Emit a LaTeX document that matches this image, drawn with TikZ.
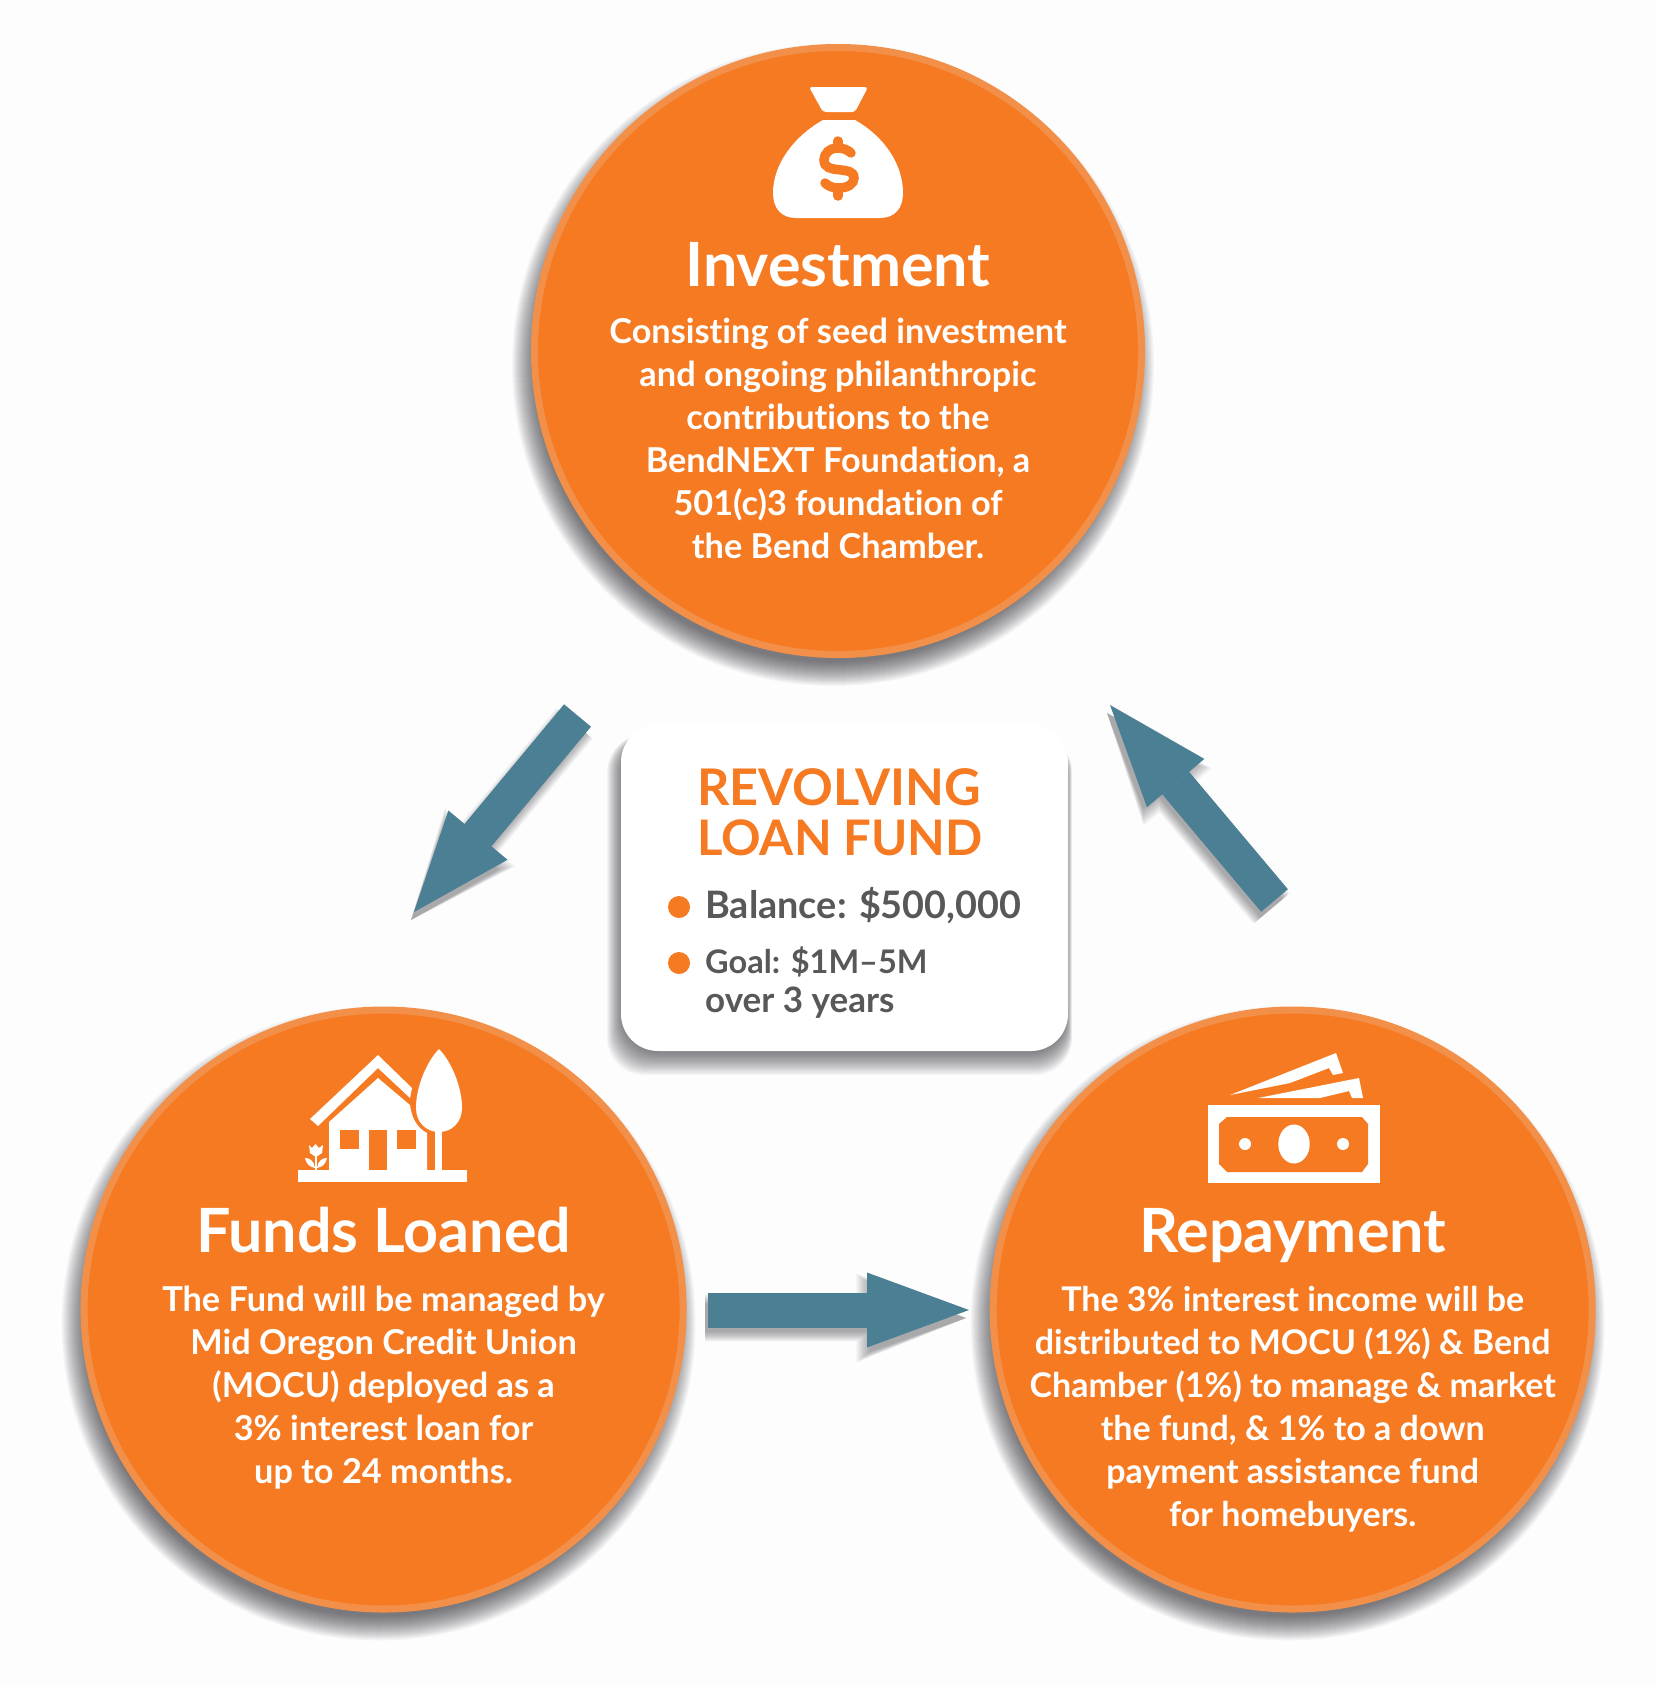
\documentclass[tikz,border=0pt]{standalone}
\usepackage{fontspec}
\setmainfont{Lato}[Ligatures=CommonOff]
\usetikzlibrary{arrows.meta,calc}
\definecolor{fundorange}{HTML}{F67A22}
\definecolor{fundring}{HTML}{F2904A}
\definecolor{fundteal}{HTML}{4A7F94}
\definecolor{fundgray}{HTML}{58585A}
\definecolor{shadowink}{HTML}{2E2E34}
\definecolor{paper}{HTML}{FEFDFE}
\tikzset{
  disc/.style={circle,draw=fundring,fill=fundorange,line width=7pt,inner sep=0pt},
  discr/.style={disc,minimum size=#1},
  title/.style={text=white,inner sep=0pt,font=\fontsize{61}{62}\selectfont\bfseries,anchor=base},
  body/.style={text=white,inner sep=0pt,font=\fontsize{34.3}{42.9}\selectfont\bfseries,align=center,anchor=base},
  icon/.style={fill=white,draw=none},
  cutout/.style={fill=fundorange,draw=none},
  flow/.style={draw=fundteal,line width=35pt},
  dot/.style={circle,fill=fundorange,inner sep=0pt,minimum size=22pt},
  head/.style={text=fundorange,inner sep=0pt,anchor=base west},
  info/.style={text=fundgray,inner sep=0pt,anchor=base west}
}
% soft shadows are stacks of faint shapes
\newcommand{\discshadow}[2]{
  \foreach \g in {0,1,...,24}{
    \fill[shadowink,opacity=.035] ($(#1)+(-5,14)$) circle ({#2-10+\g});
  }
}
\newcommand{\flowarrow}[4]{
  \foreach \g in {0,1,...,14}{
    \pgfmathsetmacro\shaftw{28+\g*1.4}
    \pgfmathsetmacro\tipl{#3-6+\g}
    \pgfmathsetmacro\tipw{#4-8+\g*1.6}
    \draw[shadowink,opacity=.03,line width=\shaftw pt,-{Triangle[line width=0pt,length=\tipl pt,width=\tipw pt]}]
      ($(#1)+(-3,8)$) -- ($(#2)+(-3,8)$);
  }
  \draw[flow,-{Triangle[line width=0pt,length=#3pt,width=#4pt]}] (#1) -- (#2);
}
\begin{document}
\begin{tikzpicture}[x=1pt,y=-1pt]
  \fill[paper] (0,0) rectangle (1656,1686);
  \useasboundingbox (0,0) rectangle (1656,1686);
  \coordinate (investc) at (838,351);
  \coordinate (loanc) at (383.6,1309.5);
  \coordinate (repayc) at (1292.7,1309.5);
  \coordinate (boxc) at (844.5,888);
  % arrow ends
  \coordinate (investout) at (577.5,715.5);
  \coordinate (loanin) at (414,912);
  \coordinate (loanout) at (708,1310);
  \coordinate (repayin) at (969,1310);
  \coordinate (repayout) at (1274.5,900.5);
  \coordinate (investin) at (1110,705);

  \discshadow{investc}{307}
  \discshadow{loanc}{303}
  \discshadow{repayc}{303}
  \node[discr=607pt] (invest) at (investc) {};
  \node[discr=599pt] (loan) at (loanc) {};
  \node[discr=599pt] (repay) at (repayc) {};

  \flowarrow{investout}{loanin}{100}{77}
  \flowarrow{loanout}{repayin}{102}{75}
  \flowarrow{repayout}{investin}{102}{75}

  % centre panel
  \foreach \g in {0,1,...,20}{
    \fill[shadowink,opacity=.04,rounded corners=37pt]
      (623-\g*.8,735) rectangle (1066+\g*.3,1051+\g*1.2);
  }
  \node[fill=white,rounded corners=37pt,minimum width=447pt,minimum height=326pt,inner sep=0pt] (panel) at (boxc) {};
  \node[head,font=\fontsize{50.5}{50}\selectfont\bfseries] (revolving) at (697,805) {REVOLVING};
  \node[head,font=\fontsize{49}{50}\selectfont\bfseries] (loanfund) at (697,855) {LOAN FUND};
  \node[dot] (dot1) at (679,907) {};
  \node[dot] (dot2) at (679,963) {};
  \node[info,font=\fontsize{37.8}{39}\selectfont\bfseries] (balance) at (705,918) {Balance: \$500,000};
  \node[info,font=\fontsize{32.5}{39}\selectfont\bfseries] (goal) at (705,973.5) {Goal: \$1M--5M};
  \node[info,font=\fontsize{35}{39}\selectfont\bfseries] (years) at (705,1012.5) {over 3 years};

  % money bag
  \fill[icon,rounded corners=3pt] (809,87) -- (868,87) -- (855,112) -- (823,112) -- cycle;
  \fill[icon] (823,120) -- (855,120) .. controls (885,137) and (903,165) .. (903,193)
    .. controls (903,208) and (895,218) .. (880,218) -- (796,218)
    .. controls (781,218) and (773,208) .. (773,193)
    .. controls (773,165) and (793,137) .. (823,120) -- cycle;
  \draw[fundorange,line width=9.5pt,line cap=round] (851,153) .. controls (848,150) and (843,148) .. (838,148)
    .. controls (829,148) and (824,154) .. (824,160) .. controls (824,176) and (854,164) .. (854,178)
    .. controls (854,184) and (848,188) .. (838,188) .. controls (833,188) and (828,186) .. (825,183);
  \draw[fundorange,line width=9.5pt,line cap=round] (838,141) -- (838,148);
  \draw[fundorange,line width=9.5pt,line cap=round] (838,188) -- (838,196);
  \node[title] (investtitle) at (838,286) {Investment};
  \node[body] (investbody) at (838,558) {Consisting of seed investment\\and ongoing philanthropic\\contributions to the\\BendNEXT Foundation, a\\501(c)3 foundation of\\the Bend Chamber.};

  % house
  \fill[icon] (298,1170) rectangle (467,1182);
  \fill[icon] (310,1119) -- (378,1055) -- (412,1088) -- (410,1098) -- (378,1068) -- (318,1126) -- cycle;
  \fill[icon] (378,1078) -- (410,1105) .. controls (412,1120) and (418,1128) .. (427,1133) -- (427,1170) -- (329,1170) -- (329,1122) -- cycle;
  \fill[cutout] (340,1130) rectangle (359,1149);
  \fill[cutout] (397,1130) rectangle (416,1149);
  \fill[cutout] (369,1130) rectangle (387,1170);
  \fill[icon] (439,1049) .. controls (450,1060) and (462,1085) .. (462,1108)
    .. controls (462,1122) and (452,1132) .. (439,1132)
    .. controls (426,1132) and (416,1122) .. (416,1108)
    .. controls (416,1085) and (428,1060) .. (439,1049) -- cycle;
  \fill[icon] (435,1130) rectangle (442,1170);
  \fill[icon] (309,1145) -- (312,1148) -- (315.5,1144) -- (319,1148) -- (323,1145) -- (322,1153) -- (316,1157) -- (310,1153) -- cycle;
  \fill[icon] (315,1155) rectangle (317,1170);
  \fill[icon] (305,1158) .. controls (310,1158) and (314,1161) .. (315,1168) .. controls (309,1167) and (306,1163) .. (305,1158) -- cycle;
  \fill[icon] (327,1158) .. controls (322,1158) and (318,1161) .. (317,1168) .. controls (323,1167) and (326,1163) .. (327,1158) -- cycle;
  \node[title] (loantitle) at (383.6,1252) {Funds Loaned};
  \node[body] (loanbody) at (383.6,1483.4) {The Fund will be managed by\\Mid Oregon Credit Union\\(MOCU) deployed as a\\3\% interest loan for\\up to 24 months.};

  % banknotes
  \fill[icon] (1230,1095) -- (1336,1053) -- (1343,1073) -- (1333,1075) -- (1329,1068) -- (1290,1083) -- cycle;
  \fill[icon] (1258,1098) -- (1359,1078) -- (1363,1098) -- (1352,1098) -- (1349,1091) -- (1320,1098) -- cycle;
  \fill[icon] (1208,1105) rectangle (1380,1183);
  \fill[cutout] (1219,1124) -- (1227,1117) -- (1362,1117) -- (1368,1124) -- (1368,1164) -- (1362,1172) -- (1227,1172) -- (1219,1164) -- cycle;
  \fill[icon] (1294,1144) ellipse (15.7 and 19.5);
  \fill[icon] (1245,1144) circle (6);
  \fill[icon] (1343,1144) circle (6);
  \node[title] (repaytitle) at (1292.7,1252) {Repayment};
  \node[body,font=\fontsize{34}{42.9}\selectfont\bfseries] (repaybody) at (1292.7,1526.4) {The 3\% interest income will be\\distributed to MOCU (1\%) \& Bend\\Chamber (1\%) to manage \& market\\the fund, \& 1\% to a down\\payment assistance fund\\for homebuyers.};
\end{tikzpicture}
\end{document}
